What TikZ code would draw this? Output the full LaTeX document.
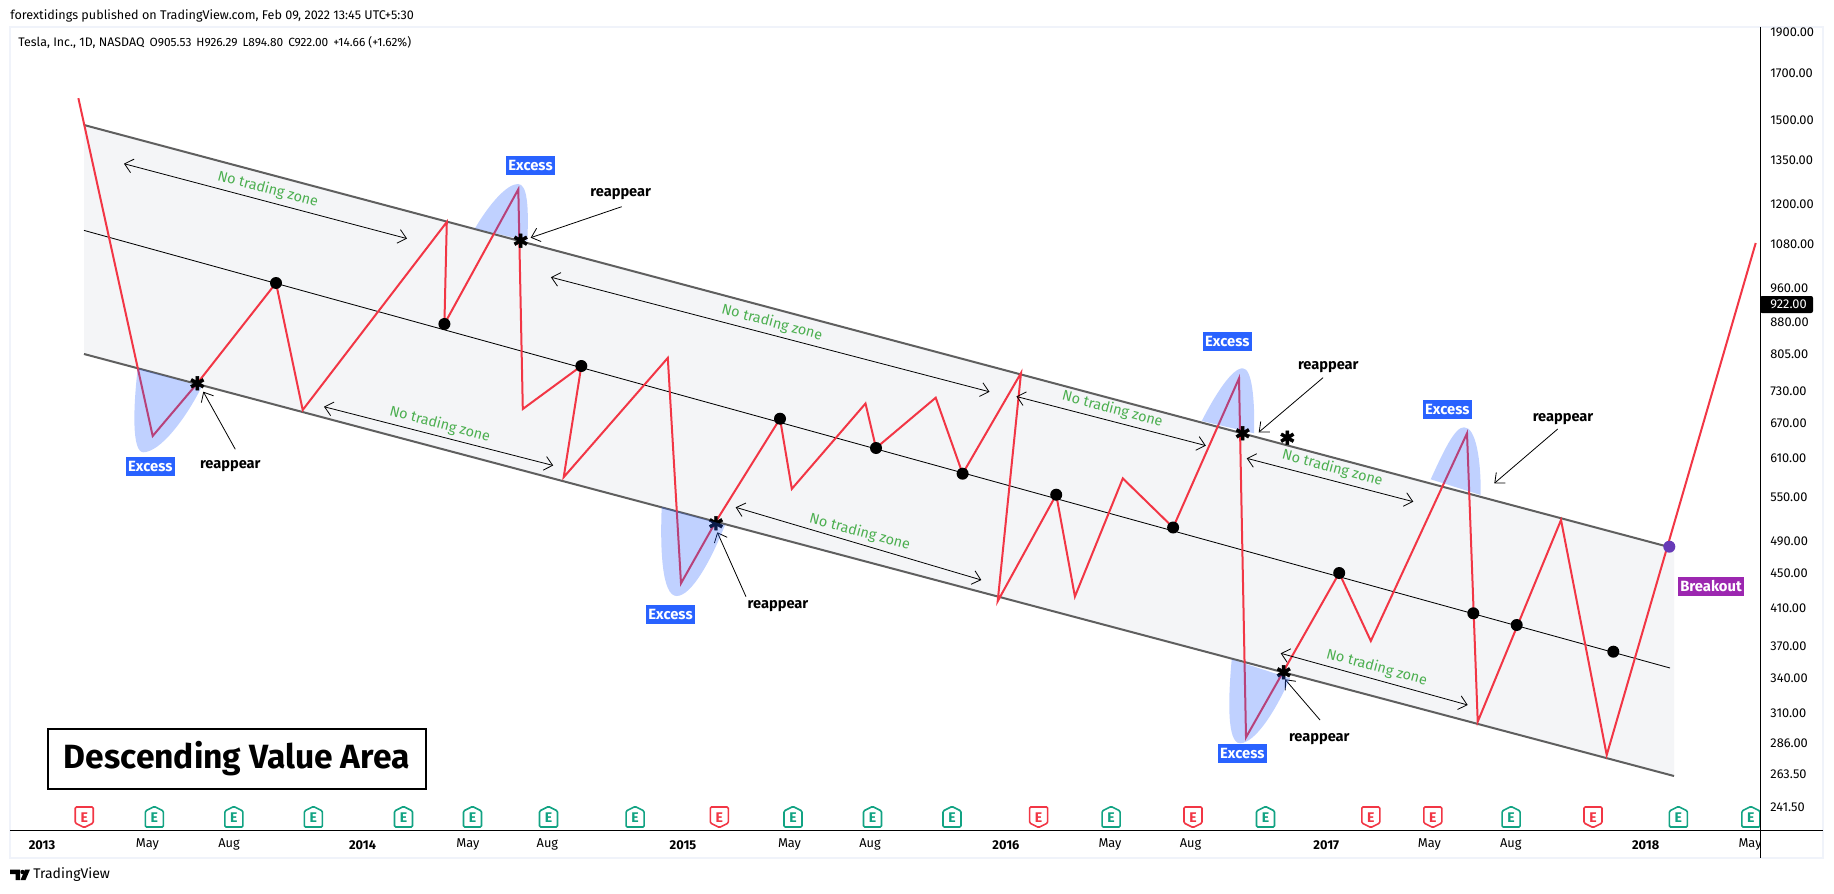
\documentclass[tikz,border=0pt]{standalone}
\usepackage{fontspec}
\setmainfont{Fira Sans}
\newfontfamily\symf[FakeBold=2.5]{DejaVu Sans}
\usetikzlibrary{arrows.meta}
\definecolor{redln}{HTML}{F23645}
\definecolor{grn}{HTML}{12A383}
\definecolor{blu}{HTML}{2962FF}
\definecolor{frameC}{HTML}{F0F3FA}
\definecolor{areaC}{HTML}{F4F5F7}
\definecolor{chan}{HTML}{5F5F5F}
\definecolor{ntz}{HTML}{4CAF50}
\definecolor{brk}{HTML}{9C27B0}
\definecolor{pur}{HTML}{673AB7}
\tikzset{
  x=0.5pt,y=-0.5pt,
  chline/.style={chan,line width=1pt},
  midline/.style={black,line width=0.42pt},
  redline/.style={redln,line width=1pt,line join=miter},
  blob/.style={blu,fill opacity=0.29,draw=none},
  pointer/.style={black,line width=0.4pt,-{Straight Barb[length=4pt,width=7pt]}},
  both/.style={black,line width=0.4pt,{Straight Barb[length=4pt,width=7pt]}-{Straight Barb[length=4pt,width=7pt]}},
  ntztext/.style={ntz,rotate=-15,font=\fontsize{7.2}{8}\selectfont,inner sep=0pt},
  excess/.style={fill=blu,text=white,font=\bfseries\fontsize{7.4}{8}\selectfont,minimum width=24.5pt,minimum height=9.5pt,inner sep=0pt},
  reapp/.style={black,yshift=-1pt,font=\bfseries\fontsize{7.3}{8}\selectfont,inner sep=0pt},
  dotn/.style={circle,fill=black,minimum size=6pt,inner sep=0pt},
  star/.style={black,font=\symf\fontsize{9.5}{10}\selectfont,inner sep=0pt},
  price/.style={anchor=west,font=\fontsize{6.4}{7}\selectfont,inner sep=0pt},
  tick/.style={font=\fontsize{6.4}{7}\selectfont,inner sep=0pt},
  yeart/.style={font=\bfseries\fontsize{6.4}{7}\selectfont,inner sep=0pt},
  hdr/.style={anchor=west,font=\fontsize{6.3}{7}\selectfont,inner sep=0pt},
}
\newcommand{\earn}[3]{% x, color, direction sign
  \draw[#2,line width=0.8pt,rounded corners=0.6pt,fill=white]
    (#1-9,817+#3*10) -- (#1-9,817-#3*6) -- (#1,817-#3*10.5) -- (#1+9,817-#3*6) -- (#1+9,817+#3*10) -- cycle;
  \node[#2,font=\bfseries\fontsize{7}{7}\selectfont,inner sep=0pt] (e#1) at (#1,817.5) {E};
}
\begin{document}
\begin{tikzpicture}
\useasboundingbox (0,0) rectangle (1834,893);
\fill[white] (0,0) rectangle (1834,893);
% frame
\draw[frameC,line width=1pt] (10,27) rectangle (1823,858);
% value area
\fill[areaC] (84,125) -- (1674,548) -- (1674,776) -- (84,354) -- cycle;
\draw[midline] (84,230.4) -- (1670,668);
\draw[chline] (84,125) -- (1669,547);
\draw[chline] (84,354) -- (1674,776);
% price path
\draw[redline] (78.4,98.2) -- (152.7,436) -- (197.3,383.3) -- (276,283) -- (302.7,410) -- (446.8,222)
  -- (444.4,324) -- (518.3,189.3) -- (522.8,409) -- (581.3,366) -- (563.7,477.2) -- (667.8,357.9)
  -- (681,583.3) -- (715.8,521.6) -- (780,418.7) -- (791.8,488.9) -- (865.5,403.5) -- (876,448)
  -- (935.7,397.7) -- (962.6,473.7) -- (1021,373) -- (997.7,601.2) -- (1056.2,494.7) -- (1074.9,596.5)
  -- (1122.8,478.4) -- (1173.1,527.5) -- (1239,378.3) -- (1246,737.3) -- (1339.2,573) -- (1370.8,641)
  -- (1467,433.3) -- (1477.7,721.7) -- (1561,520) -- (1606.7,755) -- (1755.7,243);
% excess blobs (upper and first)
\fill[blob] (137.7,368.3) .. controls (133,410) and (132,452) .. (143.3,452.3) .. controls (160,452) and (185,420) .. (201.7,386.7) -- cycle;
\fill[blob] (475,228.3) .. controls (490,203) and (507,184) .. (518,184) .. controls (527,184) and (529,205) .. (527.3,241) -- cycle;
\fill[blob] (1201.7,421) .. controls (1215,395) and (1232,368) .. (1242.7,368.3) .. controls (1252,368) and (1255,400) .. (1254,433.3) -- cycle;
\fill[blob] (1430.7,479.3) .. controls (1444,450) and (1455,427) .. (1464,427.3) .. controls (1476,427) and (1481,460) .. (1480.7,495) -- cycle;
% pivots
\foreach \n/\p in {a/{276,283},b/{444.4,324},c/{581.3,366},d/{780,418.7},f/{876,448},g/{962.6,473.7},h/{1056.2,494.7},i/{1173.1,527.5},j/{1339.2,573},k/{1473.3,613.3},l/{1516.7,625},m/{1613.3,651.7}}
  \node[dotn] (dot\n) at (\p) {};
\node[circle,fill=pur,minimum size=6pt,inner sep=0pt] (brkdot) at (1669.3,546.7) {};
\node[fill=brk,text=white,font=\bfseries\fontsize{7.4}{8}\selectfont,minimum width=33pt,minimum height=9.5pt,inner sep=0pt] (brklabel) at (1711,586.5) {Breakout};
% stars
\foreach \n/\p in {a/{197.3,383.3},b/{520.7,240.7},c/{716,523.3},d/{1242.7,433.3},f/{1287.3,437.7},g/{1283.7,672.3}}
  \node[star] (st\n) at (\p) {✱};
% excess labels
\foreach \n/\p in {a/{150.3,466.3},b/{530.5,165.5},c/{670.5,614.5},d/{1227.3,341.3},f/{1447.3,409.3},g/{1242.3,753.3}}
  \node[excess] (ex\n) at (\p) {Excess};
% reappear labels
\foreach \n/\p in {a/{230.3,463.7},b/{620.7,192.3},c/{778,603.7},d/{1328.3,365.3},f/{1563,417},g/{1319.3,737.3}}
  \node[reapp] (re\n) at (\p) {reappear};
% reappear arrows
\foreach \n/\s/\t in {a/{235.3,449.3}/{203.3,391.7},b/{621.7,206.7}/{530.7,237.7},c/{746,596.7}/{717.3,532.3},d/{1323,377.7}/{1258.7,432.3},f/{1557.7,429}/{1494.3,483.3},g/{1320,720}/{1285,679.3}}{
  \coordinate (rs\n) at (\s); \coordinate (rt\n) at (\t);
  \draw[pointer] (rs\n) -- (rt\n);
}
% excess blobs over their star and arrow
\fill[blob] (661.7,507) .. controls (660,550) and (662,596) .. (676.7,596) .. controls (692,596) and (712,558) .. (725,525) -- cycle;
\fill[blob] (1231.7,659.3) .. controls (1228,700) and (1227,743) .. (1240,743.3) .. controls (1255,743) and (1275,712) .. (1290,678.3) -- cycle;
% no trading zones
\foreach \n/\s/\t/\l in {a/{124,163.7}/{407,238.6}/{267.8,189.5},b/{324,406.7}/{553.2,465.5}/{439.8,424.6},c/{550.9,277.2}/{989.5,391.8}/{772,322.8},d/{735.7,507.3}/{981.3,580}/{859.7,532.2},f/{1016.4,396.5}/{1205.8,445.6}/{1112.3,409.4},g/{1246.7,458.3}/{1413.3,501.7}/{1332.3,468.3},h/{1280.7,653.3}/{1467.7,705}/{1376.7,667.7}}{
  \coordinate (ns\n) at (\s); \coordinate (nt\n) at (\t);
  \draw[both] (ns\n) -- (nt\n);
  \node[ntztext] (nl\n) at (\l) {No trading zone};
}
% title
\node[draw=black,line width=1.2pt,fill=white,minimum width=189pt,minimum height=30pt,inner sep=0pt,font=\bfseries\fontsize{16.8}{18}\selectfont] (title) at (236.9,759) {\raisebox{-0.8pt}{Descending Value Area}};
% earnings
\foreach \x in {154.4,233.9,313.4,403.5,472.5,548.5,635.1,793,872.5,952,1111.1,1265.5,1511.1,1678.4,1750.9} { \earn{\x}{grn}{1} }
\foreach \x in {84.2,719.3,1038.6,1193,1370.8,1432.8,1593} { \earn{\x}{redln}{-1} }
% time axis
\foreach \x/\t in {147.4/May,229/Aug,467.8/May,547.4/Aug,789.5/May,870/Aug,1110/May,1190.6/Aug,1429.3/May,1510.7/Aug,1750/May}
  \node[tick] (t\x) at (\x,844.7) {\t};
\foreach \x/\t in {42/2013,362.6/2014,683/2015,1005.9/2016,1326.3/2017,1645.7/2018}
  \node[yeart] (y\t) at (\x,844.7) {\t};
\fill[white] (1760.5,800) rectangle (1822,857);
\draw[black,line width=0.5pt] (10,830) -- (1823,830);
\draw[black,line width=0.5pt] (1760,27) -- (1760,858);
% price axis
\foreach \y/\t in {32/1900.00,73/1700.00,120/1500.00,160/1350.00,204/1200.00,244/1080.00,288/960.00,322/880.00,354/805.00,391/730.00,423/670.00,458/610.00,497/550.00,541/490.00,573/450.00,608/410.00,646/370.00,678/340.00,713/310.00,743/286.00,774/263.50,807/241.50}
  \node[price] (p\t) at (1770,\y) {\t};
\fill[black,rounded corners=1pt] (1760,296) rectangle (1813,313);
\node[price,text=white] (pnow) at (1770,304.5) {922.00};
% headers
\node[hdr] (pub) at (10,15.5) {forextidings published on TradingView.com, Feb 09, 2022 13:45 UTC+5:30};
\node[hdr,font=\fontsize{6.2}{7}\selectfont] (sym) at (18,42.5) {Tesla, Inc., 1D, NASDAQ{\fontsize{5.95}{7}\selectfont\hspace{2.5pt}O905.53\hspace{2.5pt}H926.29\hspace{2.5pt}L894.80\hspace{2.5pt}C922.00\hspace{2.5pt}+14.66 (+1.62\%)}};
% logo
\fill[black] (10,869.5) -- (20,869.5) -- (20,880) -- (15.5,880) -- (15.5,874) -- (10,874) -- cycle;
\fill[black] (22.5,872) circle (2.2);
\fill[black] (25,869.5) -- (30,869.5) -- (25.5,880) -- (20.5,880) -- cycle;
\node[hdr,font=\fontsize{7}{8}\selectfont] (tvtext) at (33,875) {TradingView};
\end{tikzpicture}
\end{document}
